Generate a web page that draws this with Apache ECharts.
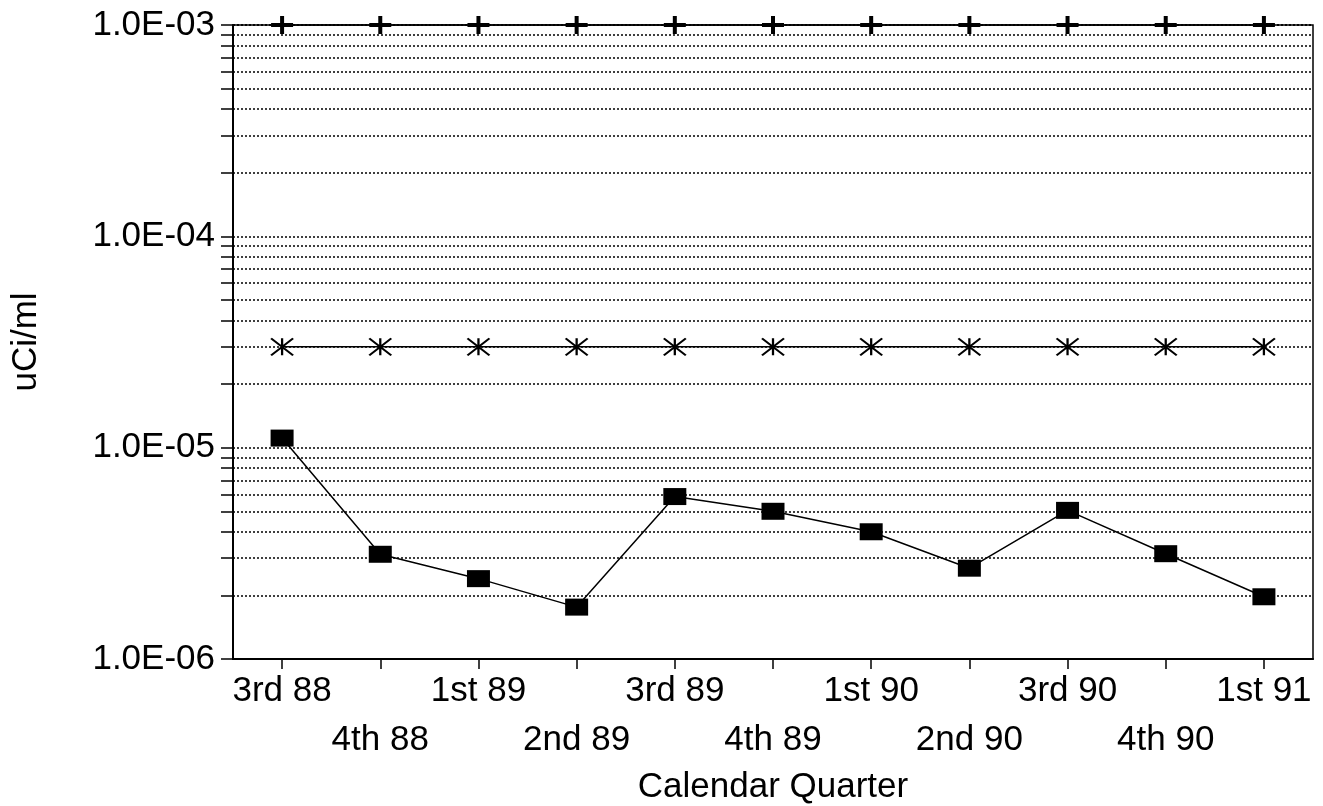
<!DOCTYPE html>
<html>
<head>
<meta charset="utf-8">
<script src="https://cdn.jsdelivr.net/npm/echarts@6/dist/echarts.min.js"></script>
<style>
  html, body { margin: 0; padding: 0; background: #fff; }
  #main { width: 1323px; height: 806px; }
</style>
</head>
<body>
<div id="main"></div>
<script>
// quarters on the x axis
const quarters = ['3rd 88', '4th 88', '1st 89', '2nd 89', '3rd 89', '4th 89',
                  '1st 90', '2nd 90', '3rd 90', '4th 90', '1st 91'];
// measured concentration (squares)
const measured = [1.11e-5, 3.13e-6, 2.4e-6, 1.76e-6, 5.87e-6, 5.0e-6,
                  4.0e-6, 2.69e-6, 5.05e-6, 3.15e-6, 1.97e-6];
// upper limit (plus markers)
const limitHigh = [1e-3, 1e-3, 1e-3, 1e-3, 1e-3, 1e-3, 1e-3, 1e-3, 1e-3, 1e-3, 1e-3];
// lower limit (asterisk markers)
const limitLow = [3e-5, 3e-5, 3e-5, 3e-5, 3e-5, 3e-5, 3e-5, 3e-5, 3e-5, 3e-5, 3e-5];
// y axis range
const yMin = 1e-6;
const yMax = 1e-3;

const font = "'Liberation Sans', Arial, Helvetica, sans-serif";

function sciLabel(v) {
    const e = Math.floor(Math.log10(v) + 1e-9);
    const m = v / Math.pow(10, e);
    const sign = e < 0 ? '-' : '+';
    return m.toFixed(1) + 'E' + sign + String(Math.abs(e)).padStart(2, '0');
}

const chart = echarts.init(document.getElementById('main'));
const option = {
    animation: false,
    backgroundColor: '#fff',
    textStyle: { fontFamily: font },
    grid: {
        left: 233, right: 10, top: 25, bottom: 147,
        outerBoundsMode: 'none',
        containLabel: false,
        show: true, borderColor: '#000', borderWidth: 1.5
    },
    xAxis: {
        type: 'category',
        data: quarters,
        boundaryGap: true,
        name: 'Calendar Quarter',
        nameLocation: 'middle',
        nameGap: 104,
        nameTextStyle: { fontSize: 35, color: '#000', fontFamily: font },
        axisLine: { lineStyle: { color: '#000', width: 2 } },
        axisTick: { show: true, alignWithLabel: true, length: 10, lineStyle: { color: '#000', width: 1.5 } },
        axisLabel: {
            interval: 0,
            margin: 8,
            fontSize: 35,
            lineHeight: 49,
            color: '#000',
            fontFamily: font,
            formatter: function (v, i) { return i % 2 === 1 ? '\n' + v : v; }
        },
        splitLine: { show: false }
    },
    yAxis: {
        type: 'log',
        logBase: 10,
        min: yMin,
        max: yMax,
        name: 'uCi/ml',
        nameLocation: 'middle',
        nameRotate: 90,
        nameGap: 189,
        nameTextStyle: { fontSize: 35, color: '#000', fontFamily: font },
        axisLine: { show: true, lineStyle: { color: '#000', width: 2 } },
        axisTick: { show: true, length: 12, lineStyle: { color: '#000', width: 1.5 } },
        minorTick: { show: true, splitNumber: 9, length: 12, lineStyle: { color: '#000', width: 1.5 } },
        axisLabel: {
            margin: 18,
            fontSize: 35,
            color: '#000',
            fontFamily: font,
            formatter: sciLabel
        },
        splitLine: { show: true, lineStyle: { color: '#000', width: 1.5, type: [2, 2] } },
        minorSplitLine: { show: true, lineStyle: { color: '#000', width: 1.5, type: [2, 2] } }
    },
    series: [
        {
            name: 'limit high',
            type: 'line',
            data: limitHigh,
            symbol: 'path://M9,0 h4 v7 h9 v4 h-9 v7 h-4 v-7 h-9 v-4 h9 z',
            symbolSize: [22, 18],
            lineStyle: { color: '#000', width: 1.5 },
            itemStyle: { color: '#000', borderWidth: 0 },
            clip: false,
            z: 5
        },
        {
            name: 'limit low',
            type: 'line',
            data: limitLow,
            symbol: 'path://M0,0 L22,16 M22,0 L0,16 M11,0 L11,16',
            symbolSize: [22, 17],
            lineStyle: { color: '#000', width: 1.5 },
            itemStyle: { color: '#000', borderColor: '#000', borderWidth: 2 },
            z: 3
        },
        {
            name: 'measured',
            type: 'line',
            data: measured,
            symbol: 'rect',
            symbolSize: [23, 17],
            lineStyle: { color: '#000', width: 1.5 },
            itemStyle: { color: '#000', borderColor: '#000', borderWidth: 0 },
            z: 4
        }
    ]
};
chart.setOption(option);
window.addEventListener('resize', function () { chart.resize(); });
</script>
</body>
</html>
